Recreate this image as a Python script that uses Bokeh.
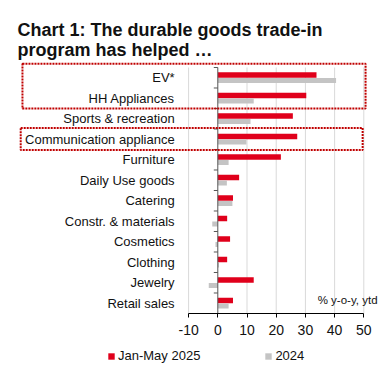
from bokeh.plotting import figure
from bokeh.layouts import column
from bokeh.models import (Range1d, ColumnDataSource, Legend, LegendItem,
                          FixedTicker, LinearAxis)
from bokeh.transform import dodge
from bokeh.core.properties import value
from bokeh.embed import file_html
from bokeh.resources import INLINE
import math

# ---------------- data ----------------
categories = ["EV*", "HH Appliances", "Sports & recreation", "Communication appliance",
              "Furniture", "Daily Use goods", "Catering", "Constr. & materials",
              "Cosmetics", "Clothing", "Jewelry", "Retail sales"]
jan_may_2025 = [33.8, 30.3, 25.7, 27.2, 21.6, 7.3, 5.2, 3.2, 4.2, 3.2, 12.3, 5.2]
year_2024 = [40.5, 12.3, 11.2, 9.8, 3.7, 3.1, 5.0, -1.9, -0.8, 0.4, -3.1, 3.7]
x_ticks = [-10, 0, 10, 20, 30, 40, 50]
highlight_groups = [["EV*", "HH Appliances"], ["Communication appliance"]]
series_labels = ["Jan-May 2025", "2024"]
title_lines = ["Chart 1: The durable goods trade-in", "program has helped \u2026"]
unit_note = "% y-o-y, ytd"

RED = "#E0001B"
GREY = "#C4C4C4"
FONT = "Liberation Sans"
TXT = "#111111"

n = len(categories)
pos = [n - 1 - i for i in range(n)]  # top category highest
src = ColumnDataSource(dict(cat=categories, k=pos, a=jan_may_2025, b=year_2024))

X0, X1 = -70.31, 57.77
Y0, Y1 = -0.5, 14.768
p = figure(width=386, height=343, output_backend="svg", toolbar_location=None,
           x_range=Range1d(X0, X1), y_range=Range1d(Y0, Y1),
           min_border_left=12, min_border_right=0, min_border_top=0,
           min_border_bottom=30, title=None, x_axis_type=None, y_axis_type=None)
p.outline_line_color = None
p.background_fill_color = "white"

# title (two lines)
p.text(x=[X0, X0], y=[13.305, 12.363], text=title_lines, x_offset=5,
       text_align="left", text_baseline="alphabetic", text_font=value(FONT),
       text_font_size="18px", text_font_style="bold", text_color=TXT)

# gridlines
gx = [t for t in x_ticks if t != 0]
p.segment(x0=gx, x1=gx, y0=[-0.5] * len(gx), y1=[n - 0.5] * len(gx),
          line_color="#D9D9D9", line_width=1)

# bars
bar_a = dict(fill_color=RED, line_color=None)
bar_b = dict(fill_color=GREY, line_color=None)
p.hbar(y=dodge("k", 0.135), right="a", left=0, height=0.27, source=src, **bar_a)
p.hbar(y=dodge("k", -0.135), right="b", left=0, height=0.25, source=src, **bar_b)

# category axis line at zero with ticks pointing left
p.segment(x0=[0], x1=[0], y0=[-0.5], y1=[n - 0.5], line_color="#555555", line_width=1)
bounds = [i - 0.5 for i in range(n + 1)]
p.ray(x=[0] * len(bounds), y=bounds, length=4, length_units="screen", angle=math.pi,
      line_color="#555555", line_width=1)

# category labels
p.text(x=[-10] * n, y=pos, text=categories, x_offset=-14, text_align="right",
       text_baseline="middle", text_font=value(FONT), text_font_size="13px",
       text_color=TXT)

# highlight boxes
for grp in highlight_groups:
    ks = [pos[categories.index(c)] for c in grp]
    if len(grp) > 1:
        top, bot, left, right = max(ks) + 0.68, min(ks) - 0.5, -66.9, 50.6
    else:
        top, bot, left, right = max(ks) + 0.55, min(ks) - 0.53, -67.5, 49.6
    p.quad(left=[left], right=[right], top=[top], bottom=[bot], fill_color=None,
           line_color="#C00000", line_width=2, line_dash="2 1")

# unit note
p.text(x=[54.7], y=[0.15], text=[unit_note], text_align="right", text_baseline="middle",
       text_font=value(FONT), text_font_size="11.5px", text_color=TXT)

# x axis
xa = LinearAxis(ticker=FixedTicker(ticks=x_ticks), bounds=(-10, 50))
xa.major_label_overrides = {t: str(t) for t in x_ticks}
xa.axis_line_color = "black"
xa.major_tick_line_color = "black"
xa.major_tick_out = 4
xa.major_tick_in = 0
xa.minor_tick_line_color = None
xa.major_label_text_font = FONT
xa.major_label_text_font_size = "14px"
xa.major_label_text_color = TXT
xa.major_label_standoff = 7
p.add_layout(xa, "below")

# legend strip
q = figure(width=386, height=26, output_backend="svg", toolbar_location=None,
           x_range=Range1d(0, 1), y_range=Range1d(0, 1), min_border=0,
           min_border_left=12, min_border_right=0,
           x_axis_type=None, y_axis_type=None, title=None)
q.outline_line_color = None
q.xgrid.visible = False
q.ygrid.visible = False
hidden = ColumnDataSource(dict(y=[-5], r=[1]))
la = q.hbar(y="y", right="r", left=0, height=0.5, source=hidden, **bar_a)
lb = q.hbar(y="y", right="r", left=0, height=0.5, source=hidden, **bar_b)
legend = Legend(items=[LegendItem(label=series_labels[0], renderers=[la]),
                       LegendItem(label=series_labels[1], renderers=[lb])],
                orientation="horizontal", location=(95, 6))
legend.glyph_width = 8
legend.glyph_height = 8
legend.label_standoff = 3
legend.spacing = 64
legend.padding = 0
legend.margin = 0
legend.border_line_color = None
legend.background_fill_alpha = 0
legend.label_text_font = FONT
legend.label_text_font_size = "13px"
legend.label_text_color = TXT
legend.label_height = 14
q.add_layout(legend)

layout = column(p, q, spacing=0)
open("out.html", "w").write(file_html(layout, INLINE))
